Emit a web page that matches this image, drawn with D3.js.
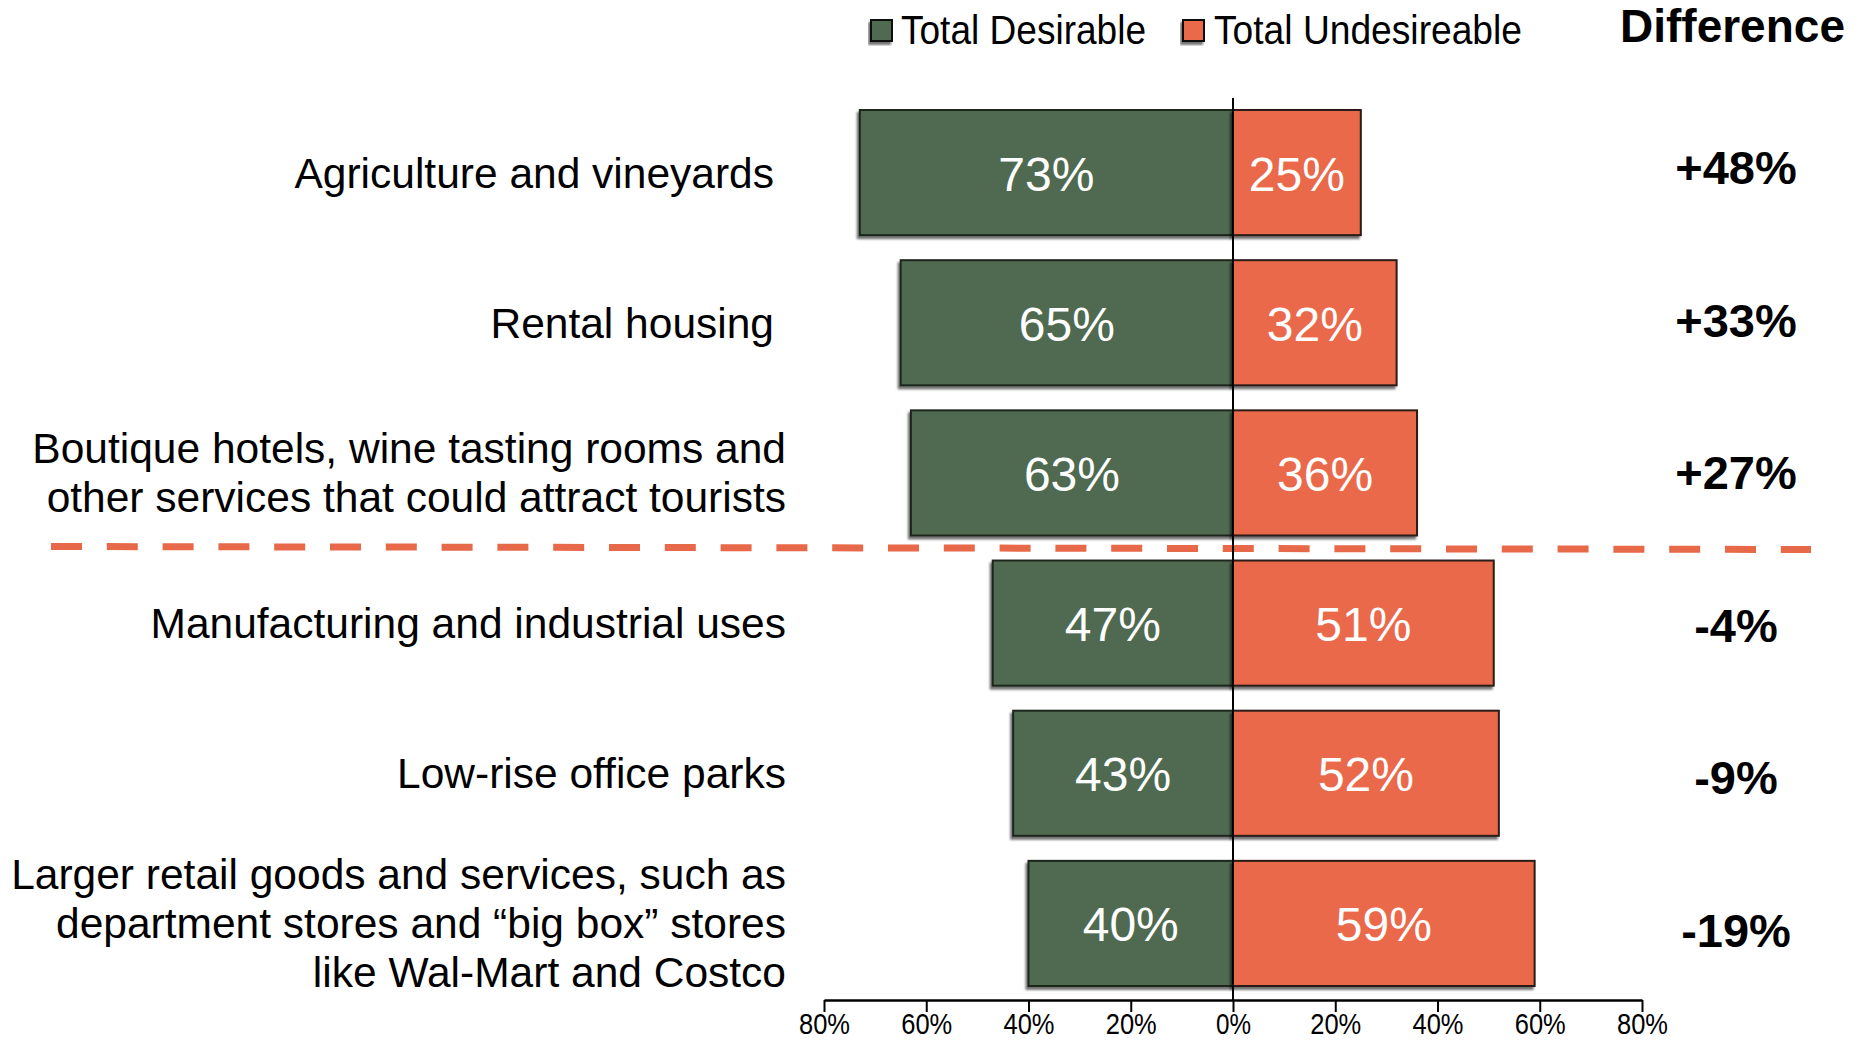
<!DOCTYPE html>
<html>
<head>
<meta charset="utf-8">
<script src="https://cdn.jsdelivr.net/npm/d3@7"></script>
<style>
  html, body { margin: 0; padding: 0; background: #fff; }
  svg { display: block; }
  text { font-family: "Liberation Sans", Arial, Helvetica, sans-serif; }
</style>
</head>
<body>
<script>
// ---- data ----
const categories = [
  "Agriculture and vineyards",
  "Rental housing",
  "Boutique hotels, wine tasting rooms and\nother services that could attract tourists",
  "Manufacturing and industrial uses",
  "Low-rise office parks",
  "Larger retail goods and services, such as\ndepartment stores and \u201cbig box\u201d stores\nlike Wal-Mart and Costco"
];
const desirable   = [73, 65, 63, 47, 43, 40];
const undesirable = [25, 32, 36, 51, 52, 59];
const tickValues  = [-80, -60, -40, -20, 0, 20, 40, 60, 80];
const legendLabels = ["Total Desirable", "Total Undesireable"];
const diffTitle = "Difference";

// ---- layout ----
const W = 1872, H = 1043;
const green = "#506a51", orange = "#ea694b", dashColor = "#e8684a";

const svg = d3.select("body").append("svg").attr("width", W).attr("height", H);
const defs = svg.append("defs");
const f = defs.append("filter").attr("id", "shadow")
  .attr("x", "-10%").attr("y", "-10%").attr("width", "120%").attr("height", "130%");
f.append("feDropShadow").attr("dx", -2).attr("dy", 3).attr("stdDeviation", 1.2)
  .attr("flood-color", "#000").attr("flood-opacity", 0.55);

const x = d3.scaleLinear().domain([-80, 80]).range([824, 1642]);
const idx = d3.range(categories.length);
const y = d3.scaleBand().domain(idx).range([97.5, 998.5]).paddingInner(0.1667).paddingOuter(0.0833);
const yDiff = d3.scalePoint().domain(idx).range([167, 930]);

// bars
const rows = svg.append("g").selectAll("g").data(idx).join("g");
rows.append("rect")
  .attr("x", i => x(-desirable[i])).attr("y", i => y(i))
  .attr("width", i => x(0) - x(-desirable[i])).attr("height", y.bandwidth())
  .attr("fill", green).attr("stroke", "#1e261e").attr("stroke-width", 2)
  .attr("filter", "url(#shadow)");
rows.append("rect")
  .attr("x", x(0)).attr("y", i => y(i))
  .attr("width", i => x(undesirable[i]) - x(0)).attr("height", y.bandwidth())
  .attr("fill", orange).attr("stroke", "#2a1a16").attr("stroke-width", 2)
  .attr("filter", "url(#shadow)");

// value labels
rows.append("text")
  .attr("x", i => (x(-desirable[i]) + x(0)) / 2)
  .attr("y", i => y(i) + y.bandwidth() / 2 + 18)
  .attr("text-anchor", "middle").attr("fill", "#fff").attr("font-size", 48)
  .text(i => desirable[i] + "%");
rows.append("text")
  .attr("x", i => (x(undesirable[i]) + x(0)) / 2)
  .attr("y", i => y(i) + y.bandwidth() / 2 + 18)
  .attr("text-anchor", "middle").attr("fill", "#fff").attr("font-size", 48)
  .text(i => undesirable[i] + "%");

// category labels
const labelRight = i => (i < 2 ? 774 : 786);
rows.append("text")
  .attr("text-anchor", "end").attr("font-size", 42.5).attr("fill", "#000")
  .each(function(i) {
    const lines = categories[i].split("\n");
    const cy = y(i) + y.bandwidth() / 2;
    const lh = 49;
    d3.select(this).selectAll("tspan").data(lines).join("tspan")
      .attr("x", labelRight(i))
      .attr("y", (d, k) => cy + 15 + (k - (lines.length - 1) / 2) * lh)
      .text(d => d);
  });

// difference column
svg.append("text").attr("x", 1620).attr("y", 42)
  .attr("font-size", 46).attr("font-weight", "bold").text(diffTitle);
svg.append("g").selectAll("text").data(idx).join("text")
  .attr("x", 1736).attr("y", i => yDiff(i) + 17)
  .attr("text-anchor", "middle").attr("font-size", 47).attr("font-weight", "bold")
  .text(i => { const d = desirable[i] - undesirable[i]; return (d > 0 ? "+" : "") + d + "%"; });

// separator dashed line
const sepY = (y(2) + y.bandwidth() + y(3)) / 2;
svg.append("line").attr("x1", 51).attr("x2", 1811).attr("y1", sepY - 1.5).attr("y2", sepY + 1.5)
  .attr("stroke", dashColor).attr("stroke-width", 7).attr("stroke-dasharray", "31 24.8");

// zero line
svg.append("line").attr("x1", x(0)).attr("x2", x(0)).attr("y1", 98).attr("y2", 1000)
  .attr("stroke", "#000").attr("stroke-width", 2);

// axis
const axis = d3.axisBottom(x).tickValues(tickValues).tickSize(12).tickSizeOuter(0)
  .tickFormat(d => Math.abs(d) + "%");
const ag = svg.append("g").attr("transform", "translate(0,1000)").call(axis);
ag.select(".domain").attr("stroke", "#000").attr("stroke-width", 2.5);
ag.selectAll(".tick line").attr("stroke", "#000").attr("stroke-width", 2);
ag.selectAll(".tick text")
  .attr("font-family", "'Liberation Sans Narrow', 'Arial Narrow', 'Liberation Sans', Arial, sans-serif")
  .attr("font-size", 30).attr("fill", "#000").attr("y", 0).attr("dy", 34)
  .attr("textLength", 51).attr("lengthAdjust", "spacingAndGlyphs")
  .each(function(d) { if (d === 0) d3.select(this).attr("textLength", 35); });

// legend
const legend = svg.append("g");
const legendItems = [
  { sx: 871, tx: 901, tw: 245, color: green, label: legendLabels[0] },
  { sx: 1183, tx: 1214, tw: 308, color: orange, label: legendLabels[1] }
];
legend.selectAll("rect").data(legendItems).join("rect")
  .attr("x", d => d.sx).attr("y", 20).attr("width", 21).attr("height", 21)
  .attr("fill", d => d.color).attr("stroke", "#111").attr("stroke-width", 2)
  .attr("filter", "url(#shadow)");
legend.selectAll("text").data(legendItems).join("text")
  .attr("x", d => d.tx).attr("y", 44)
  .attr("font-family", "'Liberation Sans Narrow', 'Arial Narrow', 'Liberation Sans', Arial, sans-serif")
  .attr("font-size", 40).attr("textLength", d => d.tw).attr("lengthAdjust", "spacingAndGlyphs")
  .text(d => d.label);
</script>
</body>
</html>
